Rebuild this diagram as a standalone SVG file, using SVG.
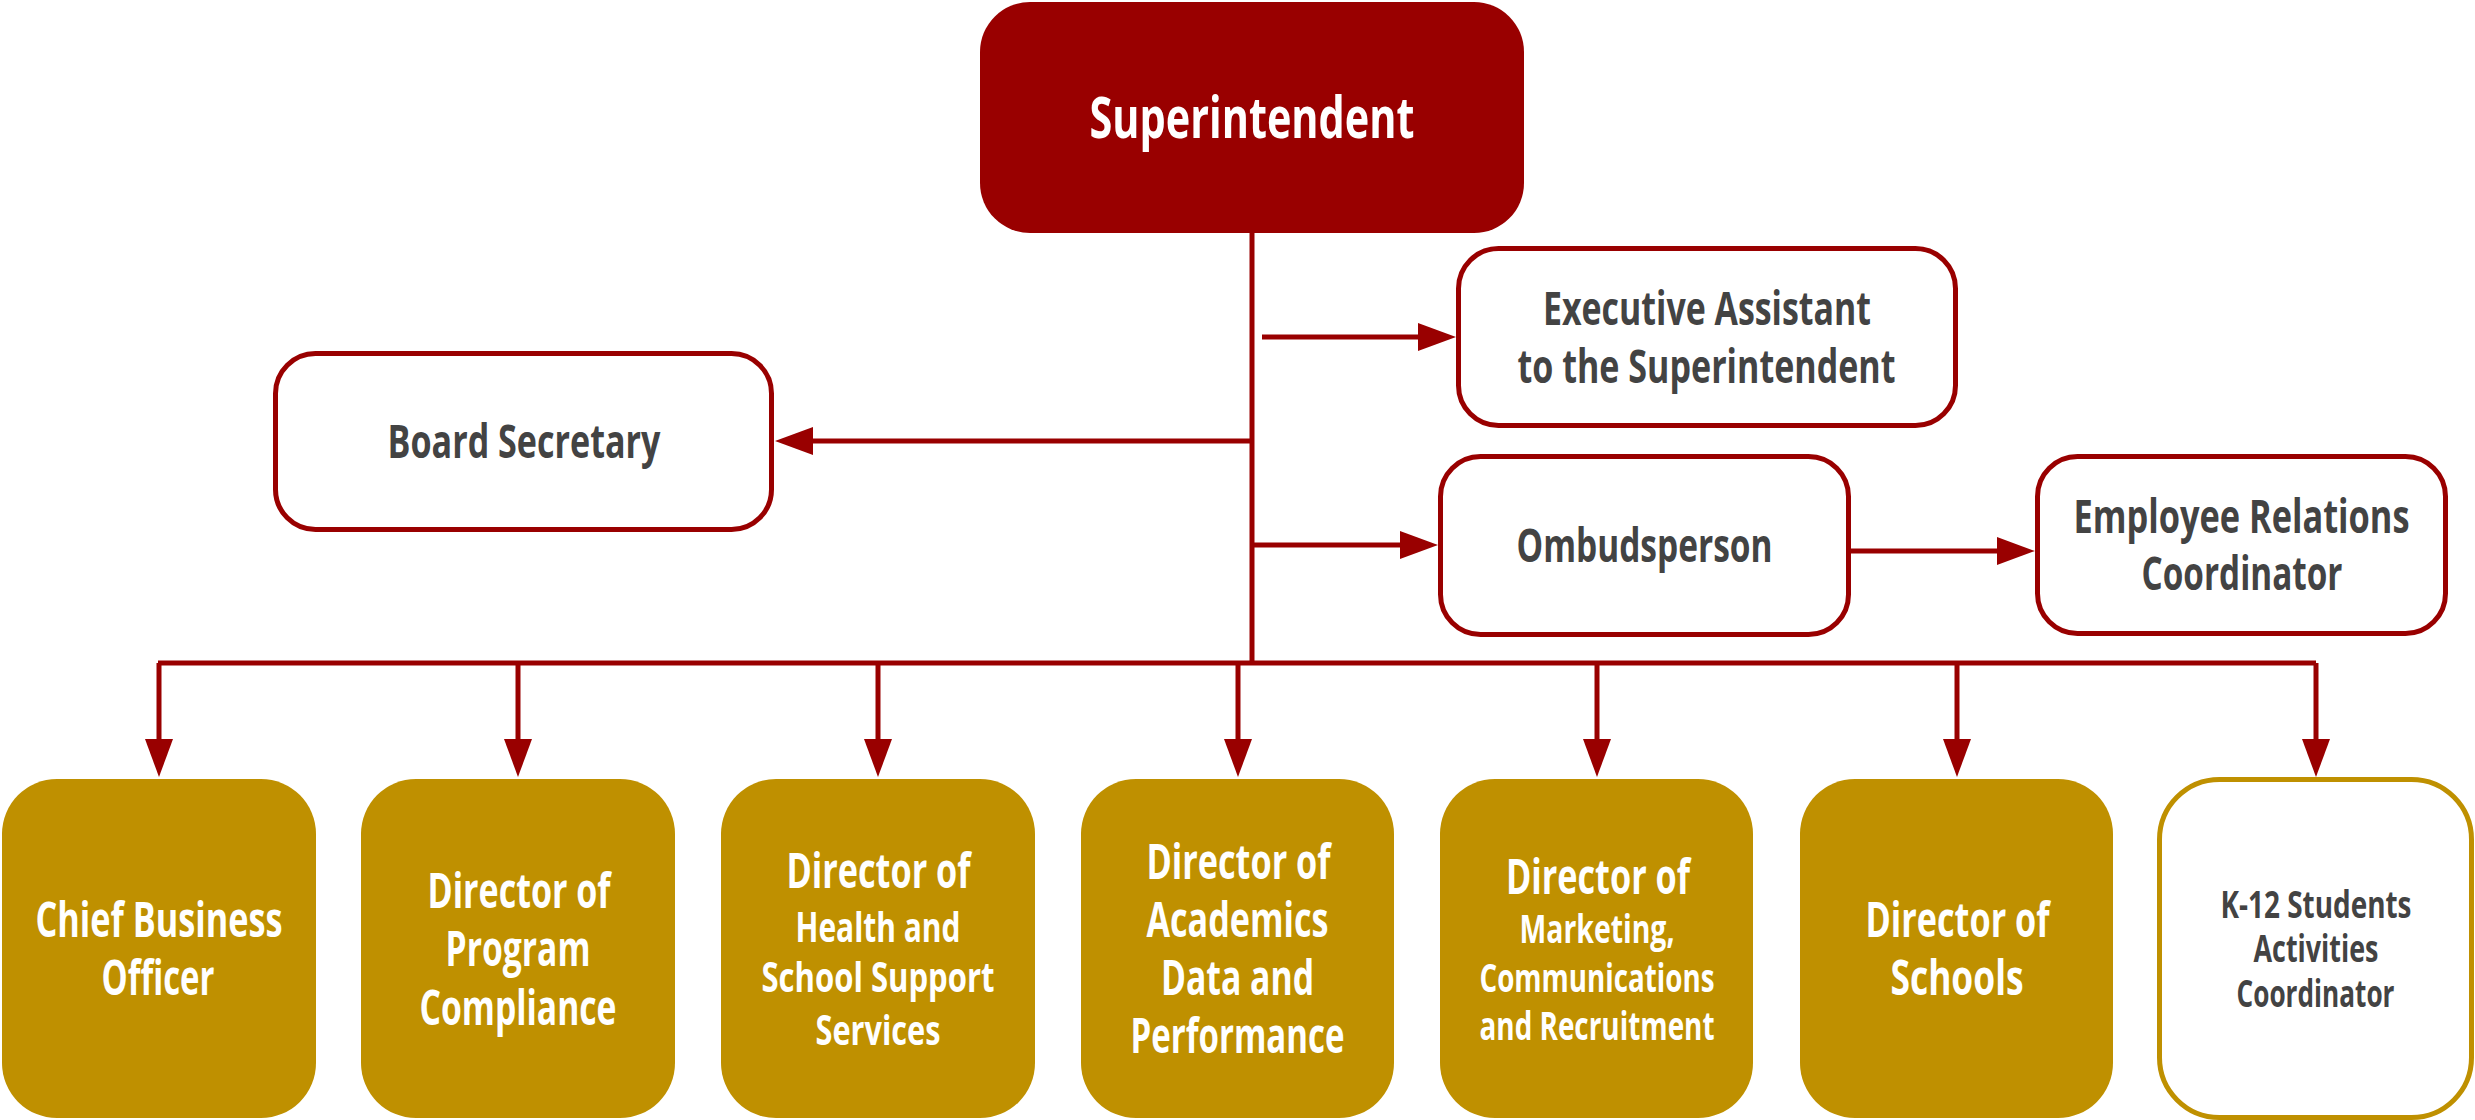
<svg xmlns="http://www.w3.org/2000/svg" width="2475" height="1120" viewBox="0 0 2475 1120">
<style>
.t{font-family:"Open Sans","Liberation Sans",sans-serif;font-weight:700;text-anchor:middle}
.w{fill:#ffffff}
.g{fill:#434343}
.ob{fill:#ffffff;stroke:#990000;stroke-width:5}
.gold{fill:#bf9000}
.k{fill:#ffffff;stroke:#bf9000;stroke-width:5}
.c{fill:none;stroke:#990000;stroke-width:5}
</style>
<defs>
<marker id="ah" markerUnits="userSpaceOnUse" markerWidth="40" markerHeight="30" refX="2" refY="14" orient="auto">
<path d="M0,0 L38,14 L0,28 z" fill="#990000"/>
</marker>
</defs>
<rect width="2475" height="1120" fill="#ffffff"/>
<g id="connectors">
<path class="c" d="M1252,233 V663"/>
<path class="c" d="M158,663 H2316"/>
<path class="c" d="M159,663 V741" marker-end="url(#ah)"/>
<path class="c" d="M518,663 V741" marker-end="url(#ah)"/>
<path class="c" d="M878,663 V741" marker-end="url(#ah)"/>
<path class="c" d="M1238,663 V741" marker-end="url(#ah)"/>
<path class="c" d="M1597,663 V741" marker-end="url(#ah)"/>
<path class="c" d="M1957,663 V741" marker-end="url(#ah)"/>
<path class="c" d="M2316,663 V741" marker-end="url(#ah)"/>
<path class="c" d="M1252,441 H811" marker-end="url(#ah)"/>
<path class="c" d="M1262,337 H1420" marker-end="url(#ah)"/>
<path class="c" d="M1252,545 H1402" marker-end="url(#ah)"/>
<path class="c" d="M1851,551 H1999" marker-end="url(#ah)"/>
</g>
<g id="superintendent">
<rect x="980" y="2" width="544" height="231" rx="50" fill="#990000"/>
<text class="t w" x="1252" y="138" font-size="58" textLength="325" lengthAdjust="spacingAndGlyphs">Superintendent</text>
</g>
<g id="executive-assistant">
<rect class="ob" x="1458.5" y="248.5" width="497" height="177" rx="40"/>
<text class="t g" x="1707" y="325" font-size="46" textLength="328" lengthAdjust="spacingAndGlyphs">Executive Assistant</text>
<text class="t g" x="1706.5" y="383" font-size="46" textLength="378" lengthAdjust="spacingAndGlyphs">to the Superintendent</text>
</g>
<g id="board-secretary">
<rect class="ob" x="275.5" y="353.5" width="496" height="176" rx="40"/>
<text class="t g" x="524" y="458" font-size="46" textLength="273" lengthAdjust="spacingAndGlyphs">Board Secretary</text>
</g>
<g id="ombudsperson">
<rect class="ob" x="1440.5" y="456.5" width="408" height="178" rx="40"/>
<text class="t g" x="1644.5" y="562" font-size="46" textLength="256" lengthAdjust="spacingAndGlyphs">Ombudsperson</text>
</g>
<g id="employee-relations">
<rect class="ob" x="2037.5" y="456.5" width="408" height="177" rx="40"/>
<text class="t g" x="2241.5" y="533" font-size="46" textLength="336" lengthAdjust="spacingAndGlyphs">Employee Relations</text>
<text class="t g" x="2242" y="590" font-size="46" textLength="201" lengthAdjust="spacingAndGlyphs">Coordinator</text>
</g>
<g id="chief-business-officer">
<rect class="gold" x="2" y="779" width="314" height="339" rx="55"/>
<text class="t w" x="159" y="937" font-size="48" textLength="247" lengthAdjust="spacingAndGlyphs">Chief Business</text>
<text class="t w" x="158" y="995" font-size="48" textLength="113" lengthAdjust="spacingAndGlyphs">Officer</text>
</g>
<g id="program-compliance">
<rect class="gold" x="361" y="779" width="314" height="339" rx="55"/>
<text class="t w" x="519" y="908" font-size="48" textLength="183" lengthAdjust="spacingAndGlyphs">Director of</text>
<text class="t w" x="518" y="966" font-size="48" textLength="145" lengthAdjust="spacingAndGlyphs">Program</text>
<text class="t w" x="518" y="1025" font-size="48" textLength="197" lengthAdjust="spacingAndGlyphs">Compliance</text>
</g>
<g id="health-school-support">
<rect class="gold" x="721" y="779" width="314" height="339" rx="55"/>
<text class="t w" x="878.5" y="888" font-size="48" textLength="184" lengthAdjust="spacingAndGlyphs">Director of</text>
<text class="t w" x="878" y="942" font-size="42" textLength="165" lengthAdjust="spacingAndGlyphs">Health and</text>
<text class="t w" x="878" y="992" font-size="42" textLength="233" lengthAdjust="spacingAndGlyphs">School Support</text>
<text class="t w" x="878" y="1045" font-size="42" textLength="125" lengthAdjust="spacingAndGlyphs">Services</text>
</g>
<g id="academics-data">
<rect class="gold" x="1081" y="779" width="313" height="339" rx="55"/>
<text class="t w" x="1238.5" y="879" font-size="48" textLength="184" lengthAdjust="spacingAndGlyphs">Director of</text>
<text class="t w" x="1237.5" y="937" font-size="48" textLength="182" lengthAdjust="spacingAndGlyphs">Academics</text>
<text class="t w" x="1237.5" y="995" font-size="48" textLength="153" lengthAdjust="spacingAndGlyphs">Data and</text>
<text class="t w" x="1237.5" y="1053" font-size="48" textLength="214" lengthAdjust="spacingAndGlyphs">Performance</text>
</g>
<g id="marketing-communications">
<rect class="gold" x="1440" y="779" width="313" height="339" rx="55"/>
<text class="t w" x="1598" y="894" font-size="48" textLength="184" lengthAdjust="spacingAndGlyphs">Director of</text>
<text class="t w" x="1597" y="943" font-size="40" textLength="155" lengthAdjust="spacingAndGlyphs">Marketing,</text>
<text class="t w" x="1597" y="992" font-size="40" textLength="235" lengthAdjust="spacingAndGlyphs">Communications</text>
<text class="t w" x="1597" y="1040" font-size="40" textLength="235" lengthAdjust="spacingAndGlyphs">and Recruitment</text>
</g>
<g id="director-of-schools">
<rect class="gold" x="1800" y="779" width="313" height="339" rx="55"/>
<text class="t w" x="1957.5" y="937" font-size="48" textLength="184" lengthAdjust="spacingAndGlyphs">Director of</text>
<text class="t w" x="1957" y="995" font-size="48" textLength="133" lengthAdjust="spacingAndGlyphs">Schools</text>
</g>
<g id="k12-activities">
<rect class="k" x="2159.5" y="779.5" width="312" height="338" rx="60"/>
<text class="t g" x="2316" y="918" font-size="38" textLength="191" lengthAdjust="spacingAndGlyphs">K-12 Students</text>
<text class="t g" x="2316" y="962" font-size="38" textLength="125" lengthAdjust="spacingAndGlyphs">Activities</text>
<text class="t g" x="2315.5" y="1007" font-size="38" textLength="158" lengthAdjust="spacingAndGlyphs">Coordinator</text>
</g>
</svg>
